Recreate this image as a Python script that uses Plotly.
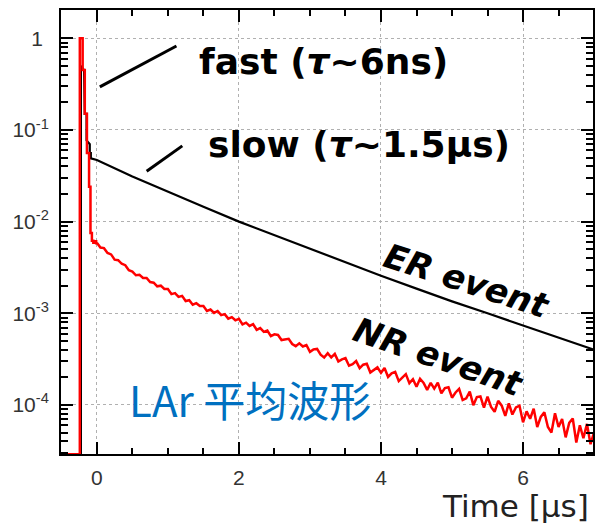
import numpy as np
import plotly.graph_objects as go

# ---------------- data ----------------
# NR (red) average waveform: rising edge / fast component (explicit bins)
red_peak_t = [-0.5, -0.24, -0.20, -0.17, -0.14, -0.11, -0.09, -0.07, -0.05, -0.03, -0.01]
red_peak_v = [2.9e-5, 1.0, 0.45, 0.15, 0.056, 0.024, 0.0075, 0.0062, 0.0059, 0.0061, 0.0058]

# NR (red) slow tail, bins of 0.05 us from 0 to 7 us
red_tail_v = [
    5.89e-3, 5.22e-3, 5.14e-3, 4.56e-3, 4.39e-3, 3.85e-3, 3.80e-3, 3.47e-3, 3.35e-3, 2.95e-3,
    2.85e-3, 2.60e-3, 2.63e-3, 2.43e-3, 2.43e-3, 2.19e-3, 2.16e-3, 1.97e-3, 2.00e-3, 1.84e-3,
    1.84e-3, 1.62e-3, 1.66e-3, 1.51e-3, 1.55e-3, 1.36e-3, 1.39e-3, 1.24e-3, 1.29e-3, 1.20e-3,
    1.20e-3, 1.06e-3, 1.10e-3, 1.01e-3, 1.06e-3, 9.55e-4, 9.79e-4, 8.75e-4, 9.08e-4, 8.39e-4,
    8.71e-4, 7.57e-4, 7.91e-4, 7.28e-4, 7.60e-4, 6.61e-4, 6.90e-4, 6.28e-4, 6.49e-4, 5.64e-4,
    5.89e-4, 5.81e-4, 5.11e-4, 5.21e-4, 5.26e-4, 4.62e-4, 4.38e-4, 4.70e-4, 4.35e-4, 4.51e-4,
    3.80e-4, 4.04e-4, 4.09e-4, 3.53e-4, 3.30e-4, 3.67e-4, 3.30e-4, 3.60e-4, 2.98e-4, 3.14e-4,
    3.24e-4, 2.68e-4, 2.79e-4, 3.01e-4, 2.52e-4, 2.75e-4, 2.82e-4, 2.26e-4, 2.40e-4, 2.57e-4,
    2.24e-4, 2.53e-4, 2.02e-4, 2.21e-4, 2.30e-4, 1.82e-4, 1.99e-4, 2.17e-4, 1.73e-4, 1.91e-4,
    1.58e-4, 1.93e-4, 1.74e-4, 1.46e-4, 1.74e-4, 1.51e-4, 1.75e-4, 1.34e-4, 1.53e-4, 1.56e-4,
    1.20e-4, 1.37e-4, 1.50e-4, 1.13e-4, 1.18e-4, 1.40e-4, 9.95e-5, 1.22e-4, 1.24e-4, 9.38e-5,
    1.23e-4, 9.51e-5, 8.43e-5, 1.11e-4, 9.82e-5, 7.59e-5, 1.04e-4, 7.87e-5, 9.42e-5, 9.82e-5,
    6.46e-5, 8.51e-5, 7.08e-5, 9.12e-5, 5.75e-5, 7.41e-5, 8.32e-5, 5.75e-5, 5.01e-5, 8.13e-5,
    5.75e-5, 7.05e-5, 4.43e-5, 6.37e-5, 7.11e-5, 3.89e-5, 6.00e-5, 4.33e-5, 6.22e-5, 3.73e-5,
    5.01e-5,
]
red_tail_t = list(np.round(np.arange(len(red_tail_v)) * 0.05, 2))

# ER (black) average waveform
black_t = [-0.5, -0.225, -0.225, -0.18, -0.17, -0.145, -0.145, -0.1, -0.1, -0.085, -0.085,
           0.0, 0.5, 1.0, 1.5, 2.0, 2.5, 3.0, 3.5, 4.0, 4.5, 5.0, 5.5, 6.0, 6.5, 7.0]
black_v = [2.9e-5, 2.9e-5, 0.5, 0.45, 0.15, 0.15, 0.077, 0.07, 0.056, 0.056, 0.049,
           0.047, 0.031, 0.021, 0.0145, 0.0100, 0.0071, 0.0050, 0.0036, 0.00257, 0.00186,
           0.00135, 0.00100, 0.00074, 0.00054, 0.00040]

y_tickvals = [1e-4, 1e-3, 1e-2, 1e-1, 1]
y_ticktext = ["10<sup>-4</sup>", "10<sup>-3</sup>", "10<sup>-2</sup>", "10<sup>-1</sup>", "1\u00a0"]
y_minor = [m * 10.0 ** e for e in range(-5, 1) for m in range(2, 10)]

# ---------------- figure ----------------
fig = go.Figure()
fig.add_trace(go.Scatter(x=black_t, y=black_v, mode="lines",
                         line=dict(color="black", width=2.2), hoverinfo="skip"))
fig.add_trace(go.Scatter(x=red_peak_t + red_tail_t[:1], y=red_peak_v + red_tail_v[:1], mode="lines",
                         line=dict(color="#ff0000", width=2.5, shape="hv"), hoverinfo="skip"))
fig.add_trace(go.Scatter(x=red_tail_t, y=red_tail_v, mode="lines",
                         line=dict(color="#ff0000", width=2.5), hoverinfo="skip"))

tickfont = dict(family="Liberation Sans, Arial, sans-serif", size=21, color="#333333")

fig.update_layout(
    width=597, height=526,
    margin=dict(l=61, r=2, t=10, b=72),
    plot_bgcolor="white", paper_bgcolor="white",
    showlegend=False,
    xaxis=dict(
        range=[-0.505, 6.985], tick0=0, dtick=2,
        showline=True, linecolor="black", linewidth=2, mirror="allticks",
        ticks="inside", ticklen=12, tickwidth=2, tickcolor="black",
        showgrid=True, gridcolor="#b0b0b0", griddash="dot", gridwidth=1,
        zeroline=False, tickfont=tickfont, ticklabelstandoff=4,
        minor=dict(tick0=0, dtick=0.5, ticks="inside", ticklen=6, tickwidth=2,
                   tickcolor="black", showgrid=False),
    ),
    yaxis=dict(
        type="log", range=[-4.535, 0.309],
        tickmode="array", tickvals=y_tickvals, ticktext=y_ticktext,
        showline=True, linecolor="black", linewidth=2, mirror="allticks",
        ticks="inside", ticklen=12, tickwidth=2, tickcolor="black",
        showgrid=True, gridcolor="#b0b0b0", griddash="dot", gridwidth=1,
        zeroline=False, tickfont=tickfont, ticklabelstandoff=6,
        minor=dict(tickmode="array", tickvals=y_minor, ticks="inside", ticklen=7,
                   tickwidth=2, tickcolor="black", showgrid=False),
    ),
)

# white patches behind the text labels (hide gridlines there)
for x0, x1, y0, y1 in [(0.217, 0.86, 0.813, 0.995), (0.232, 0.89, 0.622, 0.797)]:
    fig.add_shape(type="rect", xref="paper", yref="paper", x0=x0, x1=x1, y0=y0, y1=y1,
                  fillcolor="white", line=dict(width=0), layer="between")

# pointer lines
for x0, y0, x1, y1 in [(0.073, 0.827, 0.217, 0.919), (0.161, 0.637, 0.228, 0.694)]:
    fig.add_shape(type="line", xref="paper", yref="paper", x0=x0, y0=y0, x1=x1, y1=y1,
                  line=dict(color="black", width=3))

bold = dict(family="DejaVu Sans, sans-serif", size=36, color="black", weight="bold")
fig.add_annotation(text="fast (<i>τ</i>~6ns)", xref="paper", yref="paper",
                   x=0.2547, y=0.885, xanchor="left", yanchor="middle",
                   showarrow=False, font=bold)
fig.add_annotation(text="slow (<i>τ</i>~1.5μs)", xref="paper", yref="paper",
                   x=0.2734, y=0.696, xanchor="left", yanchor="middle",
                   showarrow=False, font=bold)

ital = dict(family="DejaVu Sans, sans-serif", size=34, color="black", weight="bold", style="italic")
fig.add_annotation(text="ER event", xref="paper", yref="paper", x=0.764, y=0.39,
                   xanchor="center", yanchor="middle", textangle=18, showarrow=False, font=ital)
fig.add_annotation(text="NR event", xref="paper", yref="paper", x=0.71, y=0.218,
                   xanchor="center", yanchor="middle", textangle=19, showarrow=False, font=ital)

fig.add_annotation(text="LAr 平均波形", xref="paper", yref="paper", x=0.1236, y=0.124,
                   xanchor="left", yanchor="middle", showarrow=False,
                   font=dict(family="Noto Sans CJK SC, sans-serif", size=42, color="#0070C0"))

fig.add_annotation(text="Time [μs]", xref="paper", yref="paper", x=0.996, y=-0.162,
                   xanchor="right", yanchor="bottom", showarrow=False,
                   font=dict(family="DejaVu Sans, sans-serif", size=31, color="#222222"))

fig.write_html("out.html")
